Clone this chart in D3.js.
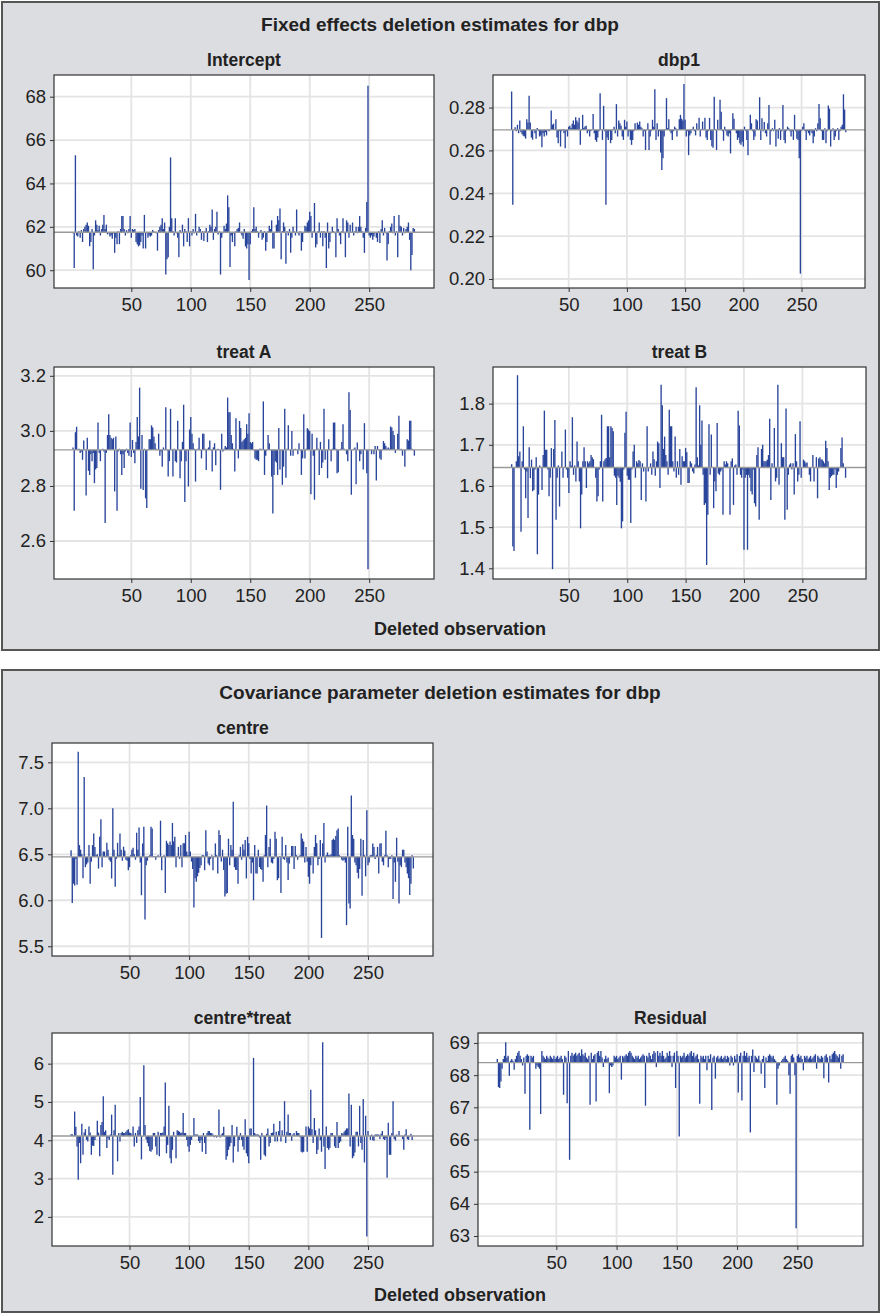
<!DOCTYPE html>
<html>
<head>
<meta charset="utf-8">
<script src="https://cdn.jsdelivr.net/npm/d3@7"></script>
<style>
  body { margin: 0; background: #fff; }
  text { font-family: "Liberation Sans", Arial, Helvetica, sans-serif; fill: #222; }
</style>
</head>
<body>
<div id="chart"></div>
<script>
const W = 881, H = 1314;

// x axis: deleted observation number (1..288)
const obsTicks = [50, 100, 150, 200, 250];
const obsDomain = [-15, 304.5];

// full-data estimates (horizontal reference line in each panel)
const fixedBase = [61.75, 0.2696, 2.931, 1.645];
const covBase = [6.472, 4.11, 68.39];

// y tick values
const interceptTicks = [60, 62, 64, 66, 68];
const dbp1Ticks = [0.20, 0.22, 0.24, 0.26, 0.28];
const treatATicks = [2.6, 2.8, 3.0, 3.2];
const treatBTicks = [1.4, 1.5, 1.6, 1.7, 1.8];
const centreTicks = [5.5, 6.0, 6.5, 7.0, 7.5];
const centreTreatTicks = [2, 3, 4, 5, 6];
const residualTicks = [63, 64, 65, 66, 67, 68, 69];

// deletion estimates, one value per deleted observation
const interceptVals = [
  61.7, 60.1, 65.3, 61.6, 61.55, 61.8, 61.5, 61.85, 61.3, 61.9,
  62.0, 62.1, 62.2, 62.05, 61.1, 61.3, 61.9, 60.05, 61.6, 62.3,
  62.1, 61.85, 62.05, 61.6, 61.9, 62.1, 62.55, 61.9, 62.1, 61.65,
  61.7, 61.55, 61.6, 61.45, 61.7, 60.8, 61.5, 61.2, 61.8, 61.2,
  61.9, 62.5, 62.5, 61.9, 61.6, 61.85, 61.7, 61.9, 62.5, 61.5,
  61.9, 61.85, 61.9, 61.3, 61.2, 61.1, 61.15, 61.3, 61.6, 61.0,
  62.55, 61.0, 61.7, 61.5, 61.6, 61.55, 61.6, 61.85, 61.8, 61.75,
  61.7, 60.9, 61.85, 62.0, 62.1, 62.4, 61.9, 62.2, 59.8, 60.5,
  60.6, 62.0, 65.2, 62.4, 61.8, 61.6, 62.4, 61.7, 61.5, 60.6,
  61.85, 61.7, 62.1, 61.1, 61.9, 61.8, 61.3, 62.4, 61.1, 61.8,
  61.6, 61.9, 61.7, 62.6, 61.6, 61.8, 62.0, 61.9, 61.4, 61.8,
  61.35, 61.8, 61.95, 61.3, 61.8, 62.1, 62.0, 62.8, 61.4, 61.9,
  62.0, 62.7, 61.65, 61.8, 59.8, 61.5, 61.7, 62.05, 61.9, 62.15,
  63.45, 62.9, 60.15, 61.6, 61.3, 61.7, 61.1, 61.8, 61.9, 61.95,
  62.2, 61.7, 61.6, 61.45, 61.9, 61.1, 61.0, 61.2, 59.55, 61.2,
  61.8, 61.9, 62.9, 61.9, 62.0, 61.8, 61.5, 61.7, 61.85, 61.4,
  61.5, 61.8, 60.9, 61.3, 61.8, 62.05, 61.9, 62.3, 61.0, 61.0,
  61.75, 62.1, 62.5, 62.3, 62.85, 60.5, 61.8, 62.2, 62.0, 60.3,
  61.8, 61.6, 61.9, 60.8, 61.5, 62.0, 61.8, 61.6, 62.8, 61.7,
  61.6, 61.8, 60.9, 61.3, 61.7, 62.05, 62.0, 62.2, 62.3, 62.7,
  62.5, 61.5, 61.8, 63.1, 61.05, 61.2, 61.8, 62.2, 61.5, 61.8,
  61.1, 61.8, 61.5, 60.1, 62.2, 61.0, 61.3, 61.7, 62.0, 61.8,
  61.7, 60.6, 62.4, 61.9, 61.6, 61.2, 61.8, 62.4, 61.7, 60.6,
  62.3, 62.2, 61.5, 62.1, 61.75, 62.2, 61.6, 61.8, 62.0, 61.7,
  62.0, 62.5, 62.0, 61.8, 61.5, 60.8, 61.95, 63.15, 68.5, 61.6,
  61.5, 61.6, 61.4, 61.55, 61.7, 61.5, 61.3, 61.8, 61.25, 61.9,
  62.3, 61.6, 61.95, 61.7, 60.45, 61.2, 61.8, 62.0, 62.15, 61.7,
  62.5, 61.6, 61.8, 60.6, 62.55, 62.05, 62.0, 61.6, 61.95, 61.7,
  61.9, 62.0, 62.2, 61.4, 60.0, 60.7, 61.95, 61.9
];

const dbp1Vals = [
  0.2875, 0.2346, 0.2700, 0.2708, 0.2690, 0.2720, 0.2680, 0.2740, 0.2685, 0.2675,
  0.2668, 0.2665, 0.2655, 0.2745, 0.2730, 0.2855, 0.2730, 0.2660, 0.2650, 0.2700,
  0.2680, 0.2655, 0.2705, 0.2690, 0.2665, 0.2670, 0.2615, 0.2680, 0.2665, 0.2685,
  0.2670, 0.2695, 0.2690, 0.2700, 0.2786, 0.2720, 0.2725, 0.2700, 0.2745, 0.2660,
  0.2634, 0.2690, 0.2618, 0.2690, 0.2700, 0.2680, 0.2610, 0.2690, 0.2665, 0.2710,
  0.2715, 0.2705, 0.2725, 0.2740, 0.2720, 0.2755, 0.2740, 0.2730, 0.2752, 0.2626,
  0.2700, 0.2766, 0.2705, 0.2712, 0.2715, 0.2680, 0.2690, 0.2665, 0.2690, 0.2695,
  0.2770, 0.2680, 0.2649, 0.2640, 0.2660, 0.2690, 0.2867, 0.2700, 0.2649, 0.2808,
  0.2690, 0.2346, 0.2660, 0.2649, 0.2690, 0.2634, 0.2649, 0.2700, 0.2711, 0.2680,
  0.2816, 0.2665, 0.2740, 0.2727, 0.2715, 0.2665, 0.2649, 0.2743, 0.2710, 0.2735,
  0.2665, 0.2690, 0.2649, 0.2626, 0.2649, 0.2690, 0.2727, 0.2700, 0.2730, 0.2720,
  0.2735, 0.2710, 0.2704, 0.2665, 0.2690, 0.2602, 0.2700, 0.2727, 0.2602, 0.2665,
  0.2690, 0.2743, 0.2710, 0.2885, 0.2649, 0.2727, 0.2665, 0.2690, 0.2590, 0.2509,
  0.2564, 0.2665, 0.2700, 0.2844, 0.2704, 0.2745, 0.2690, 0.2680, 0.2649, 0.2690,
  0.2711, 0.2704, 0.2665, 0.2700, 0.2745, 0.2766, 0.2748, 0.2740, 0.2910, 0.2743,
  0.2665, 0.2690, 0.2578, 0.2670, 0.2680, 0.2700, 0.2711, 0.2690, 0.2670, 0.2727,
  0.2700, 0.2752, 0.2665, 0.2700, 0.2735, 0.2700, 0.2752, 0.2660, 0.2649, 0.2690,
  0.2752, 0.2649, 0.2620, 0.2612, 0.2851, 0.2700, 0.2602, 0.2743, 0.2700, 0.2836,
  0.2780, 0.2690, 0.2645, 0.2711, 0.2690, 0.2670, 0.2665, 0.2680, 0.2586, 0.2700,
  0.2773, 0.2748, 0.2700, 0.2680, 0.2649, 0.2660, 0.2634, 0.2626, 0.2640, 0.2618,
  0.2711, 0.2690, 0.2649, 0.2578, 0.2700, 0.2766, 0.2727, 0.2690, 0.2649, 0.2665,
  0.2745, 0.2740, 0.2700, 0.2848, 0.2649, 0.2750, 0.2690, 0.2733, 0.2680, 0.2665,
  0.2727, 0.2812, 0.2626, 0.2690, 0.2704, 0.2690, 0.2743, 0.2618, 0.2690, 0.2655,
  0.2704, 0.2649, 0.2690, 0.2812, 0.2649, 0.2634, 0.2690, 0.2711, 0.2704, 0.2690,
  0.2665, 0.2690, 0.2649, 0.2766, 0.2690, 0.2655, 0.2649, 0.2564, 0.2025, 0.2690,
  0.2711, 0.2727, 0.2690, 0.2649, 0.2690, 0.2680, 0.2670, 0.2690, 0.2680, 0.2634,
  0.2665, 0.2704, 0.2690, 0.2727, 0.2817, 0.2750, 0.2690, 0.2649, 0.2649, 0.2704,
  0.2634, 0.2690, 0.2810, 0.2795, 0.2618, 0.2690, 0.2704, 0.2649, 0.2665, 0.2690,
  0.2704, 0.2649, 0.2690, 0.2711, 0.2720, 0.2862, 0.2791, 0.2685
];

const treatAVals = [
  2.94, 2.71, 2.995, 3.015, 2.93, 2.935, 2.92, 2.925, 2.895, 2.965,
  2.93, 2.765, 2.975, 2.855, 2.84, 2.915, 2.89, 2.92, 2.81, 2.86,
  2.865, 3.03, 2.92, 2.89, 2.93, 2.935, 2.925, 2.665, 2.92, 2.985,
  3.06, 2.985, 2.975, 2.97, 2.975, 2.78, 2.98, 2.71, 2.925, 2.935,
  2.915, 2.84, 2.915, 2.865, 2.925, 2.935, 2.92, 2.91, 3.03, 2.905,
  2.967, 2.92, 2.882, 2.96, 3.05, 2.98, 3.157, 2.79, 2.985, 2.785,
  2.935, 2.755, 2.72, 2.93, 2.97, 2.97, 3.02, 3.012, 2.98, 2.955,
  2.935, 2.93, 2.99, 2.91, 2.925, 2.87, 2.94, 2.93, 3.086, 2.93,
  2.834, 2.89, 3.08, 2.93, 2.834, 2.935, 2.89, 2.885, 3.037, 2.93,
  2.828, 2.89, 2.96, 3.095, 2.742, 2.89, 2.93, 2.798, 3.005, 3.05,
  2.99, 2.955, 2.935, 2.816, 2.93, 2.935, 2.975, 2.93, 2.9, 2.99,
  2.99, 2.935, 2.858, 2.935, 2.94, 2.965, 2.93, 2.852, 2.94, 2.955,
  2.875, 2.93, 2.935, 2.93, 2.786, 2.99, 2.925, 2.935, 2.945, 2.94,
  3.121, 3.068, 3.068, 2.985, 2.955, 2.935, 2.852, 3.046, 2.93, 2.9,
  3.036, 3.01, 2.96, 2.965, 2.97, 2.975, 3.024, 2.99, 3.064, 2.96,
  2.955, 2.96, 2.93, 2.9, 2.895, 2.895, 2.89, 2.935, 2.935, 2.93,
  3.107, 2.84, 2.91, 2.93, 2.985, 2.955, 2.93, 2.834, 2.70, 2.84,
  2.89, 2.885, 2.84, 3.01, 2.86, 2.93, 2.804, 2.87, 3.08, 2.83,
  2.935, 3.02, 2.93, 2.91, 3.0, 2.91, 2.93, 2.935, 2.93, 2.915,
  2.955, 2.93, 2.84, 2.9, 3.06, 2.9, 2.935, 3.01, 3.005, 3.0,
  2.77, 2.99, 2.91, 2.75, 2.93, 2.975, 2.935, 2.84, 2.96, 2.865,
  2.885, 3.08, 2.895, 2.93, 2.828, 2.97, 2.93, 2.89, 2.935, 3.03,
  3.03, 2.935, 2.846, 2.85, 2.93, 2.935, 2.96, 3.024, 2.935, 2.93,
  2.915, 2.89, 3.14, 3.076, 2.768, 2.93, 2.935, 2.94, 2.806, 2.958,
  2.93, 2.89, 2.915, 2.93, 2.86, 3.028, 2.93, 2.846, 2.497, 2.93,
  2.93, 2.915, 2.93, 2.915, 2.945, 2.82, 2.945, 2.93, 2.9, 2.895,
  2.93, 2.963, 2.955, 2.945, 2.935, 2.94, 2.935, 3.016, 3.012, 3.0,
  2.985, 2.92, 2.93, 2.99, 3.055, 2.93, 2.935, 2.91, 2.93, 2.87,
  2.93, 2.97, 2.965, 3.037, 3.037, 2.935, 2.93, 2.91
];

const treatBVals = [
  1.653, 1.453, 1.442, 1.645, 1.66, 1.869, 1.672, 1.684, 1.489, 1.66,
  1.745, 1.64, 1.57, 1.635, 1.522, 1.694, 1.619, 1.664, 1.587, 1.59,
  1.64, 1.67, 1.434, 1.579, 1.65, 1.645, 1.59, 1.675, 1.783, 1.688,
  1.688, 1.64, 1.575, 1.62, 1.692, 1.398, 1.69, 1.76, 1.518, 1.62,
  1.65, 1.55, 1.645, 1.684, 1.62, 1.645, 1.737, 1.64, 1.62, 1.583,
  1.66, 1.65, 1.767, 1.627, 1.65, 1.611, 1.708, 1.66, 1.611, 1.497,
  1.579, 1.66, 1.694, 1.66, 1.595, 1.66, 1.655, 1.66, 1.675, 1.67,
  1.665, 1.645, 1.62, 1.562, 1.575, 1.64, 1.66, 1.773, 1.562, 1.66,
  1.665, 1.668, 1.745, 1.745, 1.67, 1.745, 1.741, 1.733, 1.625, 1.62,
  1.554, 1.625, 1.62, 1.61, 1.497, 1.514, 1.64, 1.729, 1.78, 1.625,
  1.615, 1.615, 1.51, 1.64, 1.684, 1.7, 1.62, 1.66, 1.655, 1.663,
  1.66, 1.566, 1.655, 1.635, 1.645, 1.562, 1.745, 1.635, 1.645, 1.655,
  1.627, 1.684, 1.665, 1.625, 1.66, 1.708, 1.704, 1.595, 1.846, 1.796,
  1.69, 1.72, 1.675, 1.66, 1.627, 1.785, 1.745, 1.745, 1.66, 1.635,
  1.72, 1.62, 1.66, 1.627, 1.69, 1.603, 1.672, 1.66, 1.66, 1.692,
  1.682, 1.607, 1.607, 1.66, 1.655, 1.635, 1.63, 1.652, 1.84, 1.67,
  1.65, 1.796, 1.70, 1.759, 1.627, 1.554, 1.558, 1.408, 1.53, 1.75,
  1.627, 1.725, 1.645, 1.546, 1.611, 1.587, 1.753, 1.63, 1.627, 1.635,
  1.64, 1.53, 1.66, 1.652, 1.66, 1.655, 1.645, 1.53, 1.66, 1.667,
  1.554, 1.65, 1.652, 1.627, 1.783, 1.747, 1.627, 1.62, 1.64, 1.445,
  1.62, 1.627, 1.445, 1.627, 1.62, 1.587, 1.579, 1.64, 1.558, 1.55,
  1.675, 1.694, 1.518, 1.645, 1.69, 1.70, 1.66, 1.66, 1.66, 1.664,
  1.675, 1.763, 1.566, 1.655, 1.645, 1.741, 1.611, 1.62, 1.846, 1.603,
  1.645, 1.704, 1.67, 1.67, 1.518, 1.788, 1.542, 1.627, 1.652, 1.655,
  1.64, 1.655, 1.579, 1.726, 1.66, 1.611, 1.627, 1.757, 1.62, 1.645,
  1.664, 1.66, 1.655, 1.657, 1.645, 1.627, 1.611, 1.645, 1.675, 1.611,
  1.645, 1.67, 1.57, 1.667, 1.67, 1.664, 1.664, 1.66, 1.655, 1.71,
  1.692, 1.66, 1.59, 1.62, 1.624, 1.627, 1.627, 1.64, 1.595, 1.627,
  1.635, 1.645, 1.692, 1.718, 1.655, 1.645, 1.62, 1.645
];

const centreVals = [
  6.545, 5.97, 6.18, 6.16, 6.45, 6.17, 7.616, 6.6, 6.55, 6.50,
  6.24, 7.34, 6.36, 6.39, 6.41, 6.6, 6.18, 6.42, 6.6, 6.727,
  6.58, 6.49, 6.50, 6.345, 6.69, 6.88, 6.36, 6.53, 6.53, 6.48,
  6.625, 6.55, 6.44, 6.42, 6.237, 7.0, 6.55, 6.146, 6.45, 6.625,
  6.49, 6.727, 6.55, 6.43, 6.582, 6.54, 6.44, 6.43, 6.327, 6.36,
  6.49, 6.55, 6.57, 6.50, 6.44, 6.735, 6.55, 6.79, 6.41, 6.055,
  6.618, 6.8, 5.79, 6.38, 6.43, 6.48, 6.49, 6.8, 6.78, 6.48,
  6.48, 6.44, 6.48, 6.49, 6.47, 6.865, 6.327, 6.48, 6.49, 6.08,
  6.647, 6.62, 6.6, 6.64, 6.60, 6.84, 6.64, 6.69, 6.36, 6.48,
  6.58, 6.45, 6.6, 6.36, 6.62, 6.62, 6.71, 6.53, 6.49, 6.744,
  6.53, 6.42, 6.34, 5.92, 6.24, 6.2, 6.26, 6.3, 6.35, 6.38,
  6.49, 6.49, 6.327, 6.76, 6.53, 6.40, 6.38, 6.45, 6.49, 6.327,
  6.48, 6.618, 6.49, 6.29, 6.76, 6.71, 6.42, 6.55, 6.33, 6.04,
  6.07, 6.08, 6.67, 6.38, 6.6, 6.55, 7.07, 6.36, 6.33, 6.33,
  6.18, 6.49, 6.58, 6.44, 6.61, 6.55, 6.655, 6.237, 6.69, 6.62,
  6.45, 6.29, 6.41, 6.0, 6.6, 6.29, 6.29, 6.55, 6.36, 6.34,
  6.33, 6.2, 6.49, 6.71, 7.03, 6.36, 6.58, 6.67, 6.41, 6.40,
  6.45, 6.744, 6.67, 6.218, 6.24, 6.48, 6.08, 6.69, 6.45, 6.44,
  6.6, 6.41, 6.22, 6.40, 6.48, 6.59, 6.59, 6.34, 6.59, 6.49,
  6.44, 6.48, 6.49, 6.727, 6.67, 6.64, 6.41, 6.58, 6.42, 6.255,
  6.18, 6.38, 6.48, 6.29, 6.58, 6.71, 6.62, 6.38, 6.45, 6.655,
  5.59, 6.62, 6.84, 6.41, 6.49, 6.52, 6.49, 6.49, 6.5, 6.655,
  6.67, 6.655, 6.7, 6.76, 6.78, 6.49, 6.48, 6.44, 6.43, 6.44,
  6.41, 5.73, 6.8, 5.965, 5.91, 7.14, 6.71, 6.67, 6.41, 6.38,
  6.30, 6.237, 6.34, 6.67, 6.05, 6.655, 6.49, 6.26, 6.98, 6.38,
  6.41, 6.49, 6.49, 6.618, 6.58, 6.45, 6.49, 6.58, 6.29, 6.618,
  6.62, 6.42, 6.38, 6.49, 6.755, 6.49, 6.36, 6.45, 6.45, 6.49,
  6.015, 6.41, 6.2, 6.68, 6.42, 5.965, 6.38, 6.36, 6.55, 6.55,
  6.41, 6.36, 6.29, 6.24, 6.057, 6.18, 6.49, 6.345
];

const centreTreatVals = [
  4.16, 4.16, 4.12, 4.75, 4.35, 3.84, 2.97, 3.93, 3.4, 4.43,
  3.62, 4.2, 4.29, 4.01, 3.97, 4.36, 4.2, 3.62, 3.86, 3.85,
  4.01, 4.1, 4.51, 4.2, 3.58, 4.4, 4.48, 5.15, 4.22, 4.26,
  3.8, 4.05, 4.01, 4.15, 4.67, 3.1, 4.26, 4.93, 4.1, 3.45,
  4.19, 3.97, 4.19, 4.22, 4.19, 4.19, 4.22, 4.26, 4.29, 4.2,
  4.19, 4.15, 4.36, 3.84, 4.19, 3.93, 4.26, 4.36, 5.13, 3.5,
  4.1, 5.96, 4.4, 4.02, 3.93, 3.84, 3.72, 3.7, 3.75, 4.19,
  4.19, 3.84, 3.62, 4.22, 3.58, 4.19, 4.19, 4.2, 4.36, 5.51,
  3.66, 3.88, 4.9, 3.53, 3.4, 3.75, 4.22, 4.1, 3.53, 4.26,
  4.24, 4.22, 4.19, 4.2, 4.71, 4.19, 4.19, 4.01, 3.84, 3.7,
  3.88, 4.01, 4.1, 4.58, 4.15, 4.15, 4.15, 3.98, 3.93, 4.0,
  3.7, 4.19, 3.93, 3.64, 4.19, 4.24, 4.24, 4.19, 4.19, 4.15,
  4.08, 4.13, 4.07, 4.1, 4.8, 4.07, 4.15, 4.19, 4.35, 4.1,
  3.49, 3.58, 3.75, 3.84, 3.93, 4.4, 3.42, 3.84, 4.1, 4.35,
  3.7, 4.01, 4.19, 4.01, 3.84, 3.75, 4.55, 3.66, 3.58, 3.4,
  4.31, 4.31, 4.12, 6.15, 4.19, 4.15, 4.15, 4.15, 4.07, 3.49,
  4.19, 4.1, 3.62, 3.58, 4.17, 4.31, 3.84, 3.93, 4.19, 4.2,
  4.43, 3.97, 4.22, 3.97, 4.24, 4.5, 3.97, 4.26, 4.12, 5.02,
  3.93, 4.22, 4.67, 4.19, 4.19, 3.99, 4.15, 4.19, 4.12, 4.24,
  4.19, 4.19, 4.08, 3.7, 3.68, 3.7, 4.1, 4.36, 3.7, 4.36,
  4.31, 5.32, 4.29, 3.93, 4.58, 4.26, 3.64, 3.75, 4.31, 4.0,
  3.7, 6.56, 3.84, 3.25, 4.36, 3.8, 3.75, 3.8, 4.19, 4.19,
  4.12, 3.84, 3.8, 4.48, 3.8, 3.93, 3.97, 4.19, 4.17, 4.22,
  4.26, 4.31, 4.31, 5.22, 3.84, 4.93, 3.53, 3.58, 3.68, 4.22,
  4.22, 3.84, 4.9, 3.93, 3.75, 5.08, 3.42, 4.64, 1.49, 4.24,
  4.12, 4.01, 4.15, 4.0, 3.99, 4.15, 4.15, 4.15, 4.15, 4.03,
  4.17, 4.24, 4.03, 4.01, 4.05, 3.02, 4.46, 3.62, 3.62, 4.19,
  5.02, 4.03, 3.99, 4.15, 4.1, 4.24, 4.1, 4.12, 4.03, 3.75,
  4.15, 4.29, 4.03, 4.01, 4.1, 4.17, 4.01, 4.12
];

const residualVals = [
  68.5, 67.63, 67.6, 67.8, 68.2, 68.5, 68.6, 69.02, 68.55, 68.6,
  67.98, 68.45, 68.5, 68.45, 68.17, 68.5, 68.6, 68.7, 68.75, 68.6,
  68.5, 68.3, 68.55, 67.42, 68.6, 68.65, 68.6, 66.3, 68.6, 68.55,
  68.6, 68.4, 68.2, 68.3, 68.25, 68.2, 66.79, 68.75, 68.6, 68.55,
  68.5, 68.6, 68.55, 68.5, 68.6, 68.55, 68.5, 68.6, 68.5, 68.55,
  68.6, 68.5, 68.55, 68.6, 68.5, 67.39, 68.6, 68.55, 67.13, 68.75,
  65.37, 68.6, 68.7, 68.6, 68.65, 68.7, 68.6, 68.65, 68.7, 68.6,
  68.8, 68.65, 68.6, 68.7, 68.55, 68.5, 68.6, 67.08, 68.7, 68.5,
  68.6, 68.65, 67.18, 68.7, 68.75, 68.6, 68.75, 68.55, 68.25, 68.5,
  68.6, 68.5, 68.55, 67.44, 68.3, 68.25, 68.3, 68.6, 68.55, 68.6,
  68.5, 68.55, 68.6, 67.86, 68.6, 68.55, 68.6, 68.65, 68.6, 68.7,
  68.75, 68.7, 68.6, 68.55, 68.5, 68.6, 68.55, 68.6, 68.5, 68.55,
  68.6, 68.65, 68.6, 67.05, 68.6, 68.55, 68.7, 68.6, 68.5, 68.65,
  68.75, 68.7, 68.25, 68.75, 68.6, 68.7, 68.6, 68.75, 68.6, 68.5,
  68.55, 68.7, 68.6, 68.75, 68.6, 68.25, 68.6, 68.7, 67.6, 68.75,
  68.6, 66.09, 68.6, 68.55, 68.6, 68.7, 68.55, 68.6, 68.65, 68.6,
  68.7, 68.75, 68.6, 68.7, 68.55, 68.6, 68.65, 68.5, 67.11, 68.6,
  68.55, 68.6, 68.5, 68.6, 68.15, 68.6, 68.5, 68.65, 66.92, 68.55,
  68.6, 67.89, 68.55, 68.6, 68.5, 68.55, 68.6, 68.5, 68.55, 68.6,
  68.5, 68.6, 68.55, 68.3, 68.6, 68.55, 68.3, 68.6, 68.5, 68.65,
  67.46, 68.6, 68.7, 67.21, 68.6, 68.75, 68.6, 68.7, 68.55, 68.6,
  66.22, 68.6, 68.8, 68.1, 68.6, 68.55, 68.5, 68.6, 68.45, 68.04,
  68.5, 68.6, 67.6, 68.55, 68.45, 68.6, 68.65, 68.6, 68.55, 68.6,
  68.5, 68.45, 67.08, 68.2, 68.3, 68.4, 68.45, 68.5, 68.55, 68.6,
  68.5, 68.45, 68.0, 67.42, 68.6, 68.65, 68.55, 68.0, 63.24, 68.6,
  68.65, 68.55, 68.6, 68.5, 68.15, 68.6, 68.55, 68.6, 68.5, 68.55,
  68.6, 68.5, 68.55, 68.6, 68.65, 68.2, 68.6, 68.55, 68.5, 68.6,
  68.55, 67.9, 68.6, 68.65, 68.55, 67.77, 68.6, 68.5, 68.65, 68.7,
  68.75, 68.65, 68.6, 68.55, 68.65, 68.2, 68.6, 68.65
];

const svg = d3.select('#chart')
  .append('svg')
  .attr('width', W)
  .attr('height', H);

svg.append('rect').attr('width', W).attr('height', H).attr('fill', '#fff');

// the two grey boxes with their headings
function drawBox(y, h, title) {
  svg.append('rect')
    .attr('x', 2).attr('y', y).attr('width', 877).attr('height', h)
    .attr('fill', '#dcdde0').attr('stroke', '#555').attr('stroke-width', 2);
  svg.append('text')
    .attr('x', 440).attr('y', y + 29)
    .attr('text-anchor', 'middle')
    .style('font-size', '19px').style('font-weight', 'bold')
    .text(title);
}

drawBox(2, 648, 'Fixed effects deletion estimates for dbp');
drawBox(670, 642, 'Covariance parameter deletion estimates for dbp');

// one needle panel
function drawPanel(p) {
  const x = d3.scaleLinear().domain(obsDomain).range([p.x, p.x + p.w]);
  const y = d3.scaleLinear().domain(p.yDomain).range([p.y + p.h, p.y]);
  const g = svg.append('g');

  g.append('rect')
    .attr('x', p.x).attr('y', p.y).attr('width', p.w).attr('height', p.h)
    .attr('fill', '#fff');

  // grid
  g.selectAll('.gx').data(obsTicks).enter().append('line')
    .attr('x1', d => x(d)).attr('x2', d => x(d))
    .attr('y1', p.y).attr('y2', p.y + p.h)
    .attr('stroke', '#e4e4e4').attr('stroke-width', 1.8);
  g.selectAll('.gy').data(p.ticks).enter().append('line')
    .attr('x1', p.x).attr('x2', p.x + p.w)
    .attr('y1', d => y(d)).attr('y2', d => y(d))
    .attr('stroke', '#e4e4e4').attr('stroke-width', 1.8);

  // needles from the full-data estimate
  g.selectAll('.needle').data(p.values).enter().append('line')
    .attr('x1', (d, i) => x(i + 1)).attr('x2', (d, i) => x(i + 1))
    .attr('y1', y(p.base)).attr('y2', d => y(d))
    .attr('stroke', '#29459b').attr('stroke-width', 1.35);

  g.append('line')
    .attr('x1', p.x).attr('x2', p.x + p.w)
    .attr('y1', y(p.base)).attr('y2', y(p.base))
    .attr('stroke', '#9a9a9a').attr('stroke-width', 1.4);

  g.append('rect')
    .attr('x', p.x).attr('y', p.y).attr('width', p.w).attr('height', p.h)
    .attr('fill', 'none').attr('stroke', '#333').attr('stroke-width', 1.2);

  // axes
  const yAxis = g.append('g')
    .attr('transform', `translate(${p.x},0)`)
    .call(d3.axisLeft(y).tickValues(p.ticks).tickFormat(d3.format(p.fmt)).tickSize(4).tickPadding(4));
  const xAxis = g.append('g')
    .attr('transform', `translate(0,${p.y + p.h})`)
    .call(d3.axisBottom(x).tickValues(obsTicks).tickSize(4).tickPadding(6));
  [yAxis, xAxis].forEach(a => {
    a.select('.domain').remove();
    a.selectAll('.tick line').attr('stroke', '#333');
    a.selectAll('.tick text')
      .attr('fill', '#2a2a2a')
      .style('font-size', '18.5px')
      .style('font-family', '"Liberation Sans", Arial, Helvetica, sans-serif');
  });

  g.append('text')
    .attr('x', p.x + p.w / 2).attr('y', p.y - 9)
    .attr('text-anchor', 'middle')
    .style('font-size', '17.5px').style('font-weight', 'bold')
    .text(p.title);
}

const panels = [
  { title: 'Intercept', values: interceptVals, base: fixedBase[0], yDomain: [59.18, 69.0],
    ticks: interceptTicks, fmt: 'd', x: 54, y: 75, w: 380, h: 213 },
  { title: 'dbp1', values: dbp1Vals, base: fixedBase[1], yDomain: [0.1958, 0.2952],
    ticks: dbp1Ticks, fmt: '.2f', x: 493, y: 75, w: 372, h: 213 },
  { title: 'treat A', values: treatAVals, base: fixedBase[2], yDomain: [2.462, 3.232],
    ticks: treatATicks, fmt: '.1f', x: 54, y: 367, w: 380, h: 212 },
  { title: 'treat B', values: treatBVals, base: fixedBase[3], yDomain: [1.374, 1.889],
    ticks: treatBTicks, fmt: '.1f', x: 493, y: 367, w: 373, h: 212 },
  { title: 'centre', values: centreVals, base: covBase[0], yDomain: [5.394, 7.71],
    ticks: centreTicks, fmt: '.1f', x: 52, y: 743, w: 381, h: 213 },
  { title: 'centre*treat', values: centreTreatVals, base: covBase[1], yDomain: [1.24, 6.80],
    ticks: centreTreatTicks, fmt: 'd', x: 52, y: 1033, w: 381, h: 213 },
  { title: 'Residual', values: residualVals, base: covBase[2], yDomain: [62.69, 69.31],
    ticks: residualTicks, fmt: 'd', x: 478, y: 1033, w: 385, h: 213 }
];

panels.forEach(drawPanel);

// shared x axis titles
[635, 1301].forEach(yy => {
  svg.append('text')
    .attr('x', 460).attr('y', yy)
    .attr('text-anchor', 'middle')
    .style('font-size', '18px').style('font-weight', 'bold')
    .text('Deleted observation');
});
</script>
</body>
</html>
